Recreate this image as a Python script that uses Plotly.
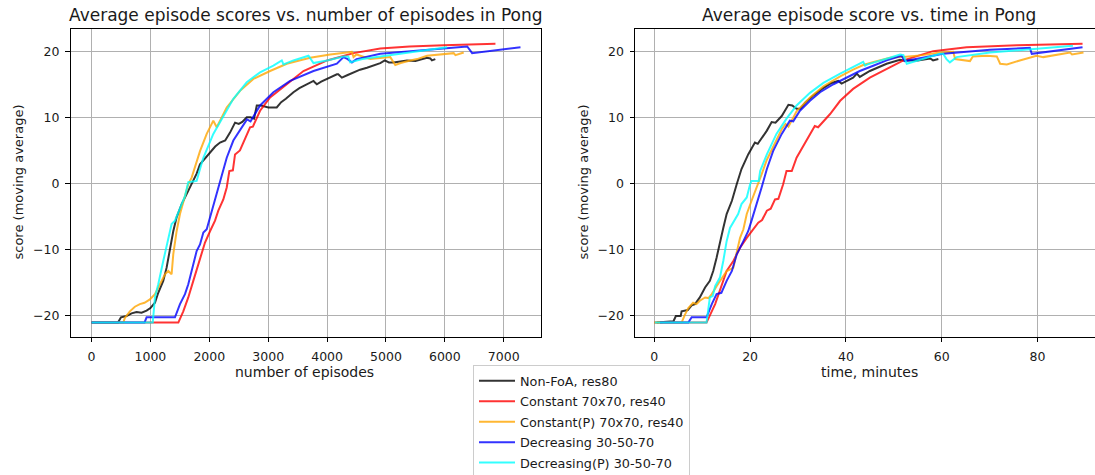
import plotly.graph_objects as go

# ---- series: (episodes, moving-average score) ----
nonfoa_ep = [(0, -21), (450, -21), (500, -20.2), (595, -20.0), (680, -19.6), (765, -19.4), (850, -19.5),
             (935, -19.2), (1000, -18.8), (1077, -18.0), (1133, -16.5), (1218, -14.7), (1275, -12.7),
             (1332, -9.7), (1388, -7.2), (1445, -5.1), (1531, -3.1), (1615, -1.6), (1700, -0.1),
             (1785, 1.5), (1842, 2.9), (1930, 3.8), (2012, 4.7), (2100, 5.6), (2182, 6.2), (2270, 6.5),
             (2352, 7.7), (2437, 9.2), (2500, 9.0), (2560, 9.3), (2636, 10.0), (2700, 10.0), (2760, 9.8),
             (2806, 11.8), (2880, 11.8), (3003, 11.5), (3145, 11.5), (3220, 12.3), (3300, 12.8),
             (3429, 13.8), (3530, 14.4), (3628, 14.9), (3700, 15.2), (3769, 15.5), (3790, 15.3),
             (3826, 15.0), (3900, 15.4), (4000, 15.8), (4080, 16.2), (4166, 16.5), (4190, 16.5),
             (4251, 16.0), (4350, 16.4), (4449, 16.8), (4560, 17.2), (4677, 17.5), (4800, 17.9),
             (4903, 18.2), (4980, 18.6), (5050, 18.3), (5129, 18.3), (5250, 18.5), (5357, 18.6),
             (5500, 18.5), (5600, 18.8), (5697, 19.0), (5753, 18.9), (5780, 18.6), (5838, 18.8)]
const_ep = [(0, -21), (1474, -21), (1558, -19.3), (1643, -17.2), (1728, -14.7), (1814, -12.2),
            (1871, -10.4), (1927, -8.9), (2012, -7.2), (2097, -5.6), (2153, -4.1), (2238, -2.4),
            (2296, -0.6), (2340, 1.9), (2400, 2.0), (2437, 4.4), (2520, 5.0), (2600, 6.6), (2692, 8.5),
            (2740, 8.6), (2862, 11.0), (3032, 13.0), (3316, 15.0), (3599, 17.0), (4000, 18.6),
            (4449, 19.7), (4903, 20.4), (5400, 20.7), (5979, 20.9), (6859, 21.1)]
constp_ep = [(0, -21), (540, -21), (566, -20.3), (651, -19.3), (736, -18.6), (821, -18.2), (900, -18.0),
             (991, -17.5), (1077, -16.7), (1162, -15.2), (1247, -13.7), (1303, -13.2), (1360, -13.7),
             (1388, -10.7), (1445, -7.2), (1502, -4.6), (1587, -2.1), (1643, -0.1), (1700, 0.9),
             (1842, 4.9), (1956, 7.5), (2068, 9.5), (2126, 8.5), (2296, 11.5), (2522, 14.0),
             (2748, 15.8), (3032, 17.0), (3316, 18.1), (3712, 19.0), (4053, 19.5), (4337, 19.8),
             (4420, 19.9), (4449, 19.1), (4500, 19.5), (4733, 18.8), (5073, 19.1), (5158, 17.9),
             (5250, 18.2), (5413, 18.6), (5527, 18.8), (5697, 19.3), (5900, 19.5), (6150, 19.7),
             (6180, 19.4), (6320, 19.8)]
decr_ep = [(0, -21), (900, -21), (935, -20.2), (1417, -20.2), (1502, -18.2), (1587, -16.7), (1643, -15.2),
           (1728, -12.2), (1785, -10.2), (1842, -9.2), (1899, -7.4), (1956, -6.9), (2041, -4.1),
           (2126, -1.6), (2182, 0.4), (2296, 3.9), (2408, 6.5), (2578, 9.0), (2640, 9.7), (2700, 9.4),
           (2862, 11.8), (3088, 13.8), (3372, 15.5), (3769, 17.0), (4166, 18.1), (4279, 19.1),
           (4350, 18.8), (4422, 18.3), (4500, 18.8), (4903, 19.6), (5400, 20.0), (5900, 20.4),
           (6380, 20.7), (6463, 19.7), (6830, 20.1), (7284, 20.6)]
decrp_ep = [(0, -21), (1040, -21), (1077, -17.2), (1133, -15.2), (1218, -11.7), (1303, -8.2),
            (1360, -6.1), (1417, -5.6), (1502, -3.6), (1587, -1.9), (1643, 0.2), (1785, 0.4),
            (1842, 2.2), (1899, 3.9), (2068, 7.5), (2182, 9.3), (2408, 12.8), (2636, 15.3),
            (2862, 16.8), (3088, 17.8), (3231, 18.6), (3259, 18.0), (3429, 18.6), (3684, 19.3),
            (3769, 18.2), (4000, 18.6), (4279, 19.2), (4360, 19.2), (4393, 18.3), (4600, 18.8),
            (5129, 19.5), (5697, 20.2), (6037, 20.6)]

# ---- series: (minutes, moving-average score) ----
nonfoa_t = [(0.5, -21), (4.0, -20.8), (4.5, -20.0), (5.5, -20.0), (5.7, -19.3), (7.0, -19.1), (7.8, -18.4),
            (8.5, -18.2), (9.5, -17.2), (10.6, -15.7), (11.6, -14.7), (12.3, -13.2), (13.0, -11.2),
            (13.7, -8.7), (14.4, -6.7), (15.1, -4.6), (16.2, -2.6), (17.2, -0.1), (18.2, 2.2),
            (19.6, 4.4), (21.0, 6.2), (21.6, 6.0), (23.5, 8.0), (24.5, 9.3), (25.3, 9.2), (26.6, 10.2),
            (28.0, 11.9), (28.8, 11.8), (29.7, 11.3), (30.5, 11.3), (31.5, 12.2), (33.0, 13.2),
            (35.0, 14.3), (37.0, 15.2), (38.4, 15.5), (39.1, 15.1), (40.0, 15.4), (41.5, 16.0),
            (42.3, 16.6), (42.9, 16.1), (45.0, 17.0), (48.5, 18.1), (51.3, 18.7), (52.0, 18.6),
            (55.0, 18.6), (57.6, 18.9), (58.2, 18.6), (59.3, 18.8)]
const_t = [(0, -21), (10.9, -21), (12.7, -18.2), (14.1, -15.2), (15.1, -13.2), (16.5, -11.7), (17.9, -9.7),
           (19.3, -8.2), (20.3, -7.2), (21.7, -5.9), (22.5, -5.5), (23.5, -4.1), (24.3, -3.8),
           (25.2, -2.4), (25.9, -2.3), (26.9, -0.1), (27.6, 1.9), (28.7, 1.9), (29.7, 3.9), (31.8, 6.5),
           (33.5, 8.7), (34.2, 8.5), (36.7, 10.5), (38.8, 12.5), (41.5, 14.3), (45.0, 16.0),
           (48.5, 17.3), (52.0, 18.6), (58.2, 20.0), (65.2, 20.6), (75.7, 20.9), (89.4, 21.1)]
constp_t = [(0, -21), (5.7, -21), (6.4, -19.8), (7.1, -18.8), (8.1, -18.0), (8.8, -18.2), (9.5, -17.7),
            (10.6, -17.2), (11.3, -17.3), (12.0, -16.7), (13.0, -15.5), (14.1, -14.2), (15.1, -13.2),
            (15.8, -13.0), (16.5, -12.7), (17.2, -10.4), (17.9, -8.2), (18.6, -6.9), (19.3, -4.6),
            (20.3, -2.6), (21.4, -0.6), (22.4, 1.4), (23.5, 3.6), (24.8, 5.6), (26.6, 8.2), (27.4, 9.0),
            (28.0, 8.6), (29.7, 10.9), (32.5, 13.0), (35.3, 14.7), (38.8, 16.2), (41.5, 17.2),
            (43.6, 17.9), (46.0, 18.4), (49.2, 19.0), (51.3, 19.1), (52.0, 19.1), (56.0, 19.4),
            (59.6, 19.8), (62.4, 19.9), (62.8, 18.8), (65.9, 18.5), (66.5, 19.2), (69.4, 19.3),
            (71.5, 19.2), (72.2, 18.1), (73.6, 18.0), (76.3, 18.6), (78.4, 19.0), (79.8, 19.3),
            (81.2, 19.1), (86.8, 19.8), (87.2, 19.5), (89.6, 19.8)]
decr_t = [(1.2, -21), (7.1, -21), (7.8, -20.2), (10.9, -20.2), (12.0, -18.2), (13.0, -16.7), (14.0, -16.5),
          (15.1, -14.7), (16.2, -13.2), (17.2, -10.7), (18.6, -8.7), (19.6, -7.2), (20.3, -5.6),
          (21.4, -3.1), (22.4, -0.6), (23.5, 2.2), (24.8, 4.9), (26.6, 7.5), (28.3, 9.5), (29.0, 9.4),
          (30.4, 11.0), (32.5, 12.5), (34.6, 13.8), (37.4, 15.0), (40.2, 16.0), (42.9, 17.0),
          (45.7, 17.8), (48.5, 18.6), (51.6, 19.3), (52.3, 18.5), (56.0, 19.0), (60.3, 19.6),
          (70.1, 20.2), (78.4, 20.5), (78.8, 19.6), (87.5, 20.5), (89.4, 20.6)]
decrp_t = [(0.1, -21), (10.9, -21), (11.6, -17.2), (12.2, -17.0), (12.7, -15.5), (13.7, -14.2),
           (14.4, -11.7), (15.1, -8.7), (15.8, -6.7), (16.5, -5.9), (17.5, -4.6), (18.2, -3.1),
           (19.3, -2.1), (20.0, -0.1), (20.3, 0.4), (21.8, 0.4), (22.1, 1.9), (23.5, 4.4), (25.5, 7.5),
           (27.6, 9.8), (29.7, 11.8), (32.5, 13.7), (35.3, 15.2), (38.8, 16.6), (41.5, 17.6),
           (43.6, 18.4), (44.0, 17.8), (44.5, 18.0), (49.2, 19.0), (51.3, 19.5), (52.0, 19.4),
           (52.7, 18.1), (55.0, 18.6), (59.6, 19.6), (60.3, 19.6), (61.0, 18.8), (61.7, 18.3),
           (63.1, 19.1), (70.1, 19.8), (78.4, 20.3), (87.4, 20.8)]

names = ["Non-FoA, res80", "Constant 70x70, res40", "Constant(P) 70x70, res40",
         "Decreasing 30-50-70", "Decreasing(P) 30-50-70"]
colors = ["rgba(0,0,0,0.8)", "rgba(255,0,0,0.8)", "rgba(255,165,0,0.8)",
          "rgba(0,0,255,0.8)", "rgba(0,255,255,0.8)"]
by_episode = [nonfoa_ep, const_ep, constp_ep, decr_ep, decrp_ep]
by_time = [nonfoa_t, const_t, constp_t, decr_t, decrp_t]

x_ticks_ep = [0, 1000, 2000, 3000, 4000, 5000, 6000, 7000]
x_ticks_t = [0, 20, 40, 60, 80]
y_ticks = [-20, -10, 0, 10, 20]

W, H = 1095, 475
FONT = "DejaVu Sans"
TXT = "#1a1a1a"

fig = go.Figure()
for i, (name, col) in enumerate(zip(names, colors)):
    xs, ys = zip(*by_episode[i])
    fig.add_trace(go.Scatter(x=xs, y=ys, mode="lines", name=name, legendgroup=f"g{i}",
                             line=dict(color=col, width=2), xaxis="x", yaxis="y"))
    xs, ys = zip(*by_time[i])
    fig.add_trace(go.Scatter(x=xs, y=ys, mode="lines", name=name, legendgroup=f"g{i}",
                             showlegend=False, line=dict(color=col, width=2),
                             xaxis="x2", yaxis="y2"))


def px_x(p):
    return p / W


def px_y(p):
    return 1 - p / H


axis_common = dict(showline=True, mirror=True, linecolor="black", linewidth=1,
                   showgrid=True, gridcolor="#b0b0b0", gridwidth=0.8, zeroline=False,
                   ticks="outside", ticklen=4.5, tickwidth=1, tickcolor="black",
                   tickfont=dict(family=FONT, size=12.5, color=TXT))
x_common = dict(axis_common, ticklabelstandoff=4)
y_common = dict(axis_common, ticklabelstandoff=3)

y_dom = [px_y(336.5), px_y(29.3)]
fig.update_layout(
    width=W, height=H, autosize=False,
    # the legend runs off the bottom edge; keep it from resizing the plots
    margin=dict(l=0, r=0, t=0, b=0, autoexpand=False),
    paper_bgcolor="white", plot_bgcolor="white",
    font=dict(family=FONT, size=12.5, color=TXT),
    xaxis=dict(domain=[px_x(70.5), px_x(540.5)], range=[-357, 7624],
               tickvals=x_ticks_ep, anchor="y", **x_common),
    yaxis=dict(domain=y_dom, range=[-23.1, 23.3], tickvals=y_ticks, anchor="x", **y_common),
    xaxis2=dict(domain=[px_x(635), 1.0], range=[-4.03, 92.0],
                tickvals=x_ticks_t, anchor="y2", **x_common),
    yaxis2=dict(domain=y_dom, range=[-23.1, 23.3], tickvals=y_ticks, anchor="x2", **y_common),
    legend=dict(x=px_x(473), y=px_y(365), xanchor="left", yanchor="top",
                bgcolor="white", bordercolor="#cccccc", borderwidth=1, itemwidth=36,
                font=dict(family=FONT, size=12.8, color=TXT), tracegroupgap=0.8),
)

annots = [
    ("Average episode scores vs. number of episodes in Pong", 305.5, 15, 17, 0),
    ("Average episode score vs. time in Pong", 869, 15, 17, 0),
    ("number of episodes", 304, 372, 14, 0),
    ("time, minutes", 869.5, 372, 14, 0),
    ("score (moving average)", 18, 182.5, 13, -90),
    ("score (moving average)", 583, 182.5, 13, -90),
]
for text, ax_, ay_, size, rot in annots:
    fig.add_annotation(text=text, x=px_x(ax_), y=px_y(ay_), xref="paper", yref="paper",
                       xanchor="center", yanchor="middle", showarrow=False, textangle=rot,
                       font=dict(family=FONT, size=size, color=TXT))

fig.write_html("out.html")
